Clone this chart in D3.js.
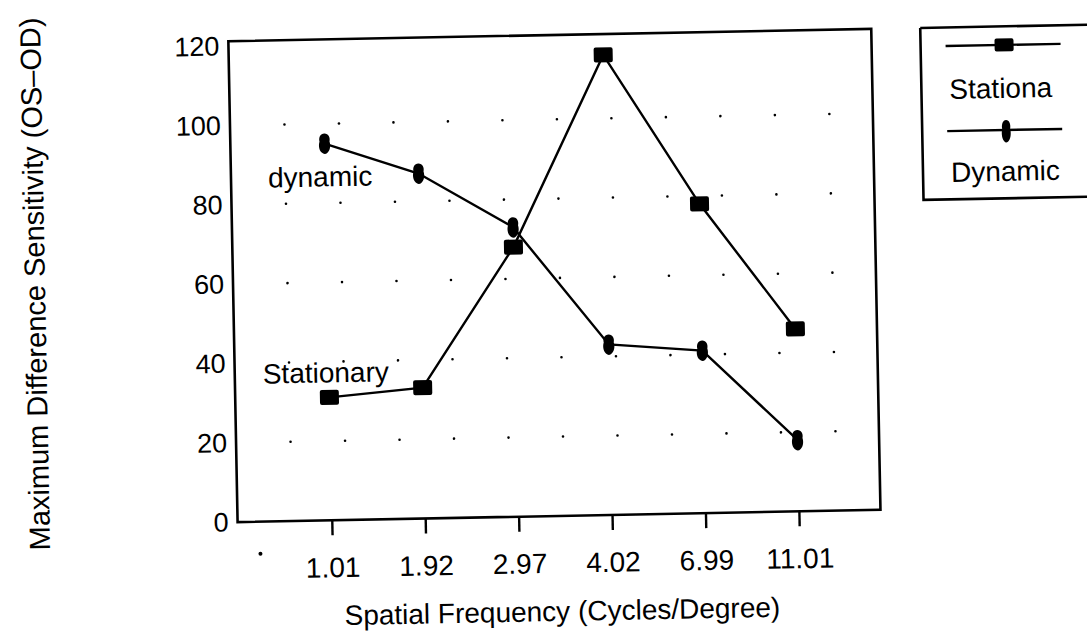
<!DOCTYPE html>
<html>
<head>
<meta charset="utf-8">
<script src="https://cdn.jsdelivr.net/npm/d3@7"></script>
<style>
  html, body { margin: 0; padding: 0; background: #fff; }
  svg { display: block; }
  text { font-family: "Liberation Sans", Arial, sans-serif; fill: #000; }
</style>
</head>
<body>
<svg id="chart" width="1087" height="635"></svg>
<script>
// ---- data ----
const categories = ["1.01", "1.92", "2.97", "4.02", "6.99", "11.01"];
const stationary = [31, 33, 68, 116, 78, 46];
const dynamic = [95, 87, 73, 43, 41, 18];
const yTicks = [0, 20, 40, 60, 80, 100, 120];
const gridValues = [20, 40, 60, 80, 100];
const seriesNames = ["Stationa", "Dynamic"];
const xTitle = "Spatial Frequency (Cycles/Degree)";
const yTitle = "Maximum Difference Sensitivity (OS\u2013OD)";

// ---- layout ----
const W = 1087, H = 635;
const frame = { left: 233, right: 876, top: 35, bottom: 516 };

const svg = d3.select("#chart");
const root = svg.append("g").attr("transform", "rotate(-1.1, 555, 280)");

const x = d3.scaleLinear().domain([0, categories.length - 1]).range([327.2, 794.4]);
const y = d3.scaleLinear().domain([0, 120]).range([frame.bottom, 40]);

// dotted grid
const dotStep = 54.5;
const dotXs = d3.range(1, 12).map(k => frame.left + k * dotStep);
const grid = root.append("g");
gridValues.forEach(v => {
  grid.selectAll(null).data(dotXs).enter().append("circle")
    .attr("cx", d => d).attr("cy", y(v)).attr("r", 1.3).attr("fill", "#000");
});

// frame
root.append("path")
  .attr("d", `M${frame.left},${frame.top}H${frame.right}V${frame.bottom}H${frame.left}Z`)
  .attr("fill", "none").attr("stroke", "#000").attr("stroke-width", 2.6);

// x axis
const xAxis = d3.axisBottom(x)
  .tickValues(d3.range(categories.length))
  .tickFormat(i => categories[i])
  .tickSize(15).tickPadding(22);
const gx = root.append("g").attr("transform", `translate(0,${frame.bottom})`).call(xAxis);
gx.select(".domain").remove();
gx.selectAll(".tick line").attr("stroke", "#000").attr("stroke-width", 2.4);
gx.selectAll(".tick text").attr("font-size", 28).attr("font-family", "Liberation Sans, Arial, sans-serif").attr("fill", "#000");

// stray mark left of first tick label, as in the scan
root.append("circle").attr("cx", x(-0.77)).attr("cy", 548).attr("r", 2).attr("fill", "#000");

// y axis
const yAxis = d3.axisLeft(y).tickValues(yTicks).tickSize(0).tickPadding(9);
const gy = root.append("g").attr("transform", `translate(${frame.left},0)`).call(yAxis);
gy.select(".domain").remove();
gy.selectAll(".tick text").attr("font-size", 27).attr("font-family", "Liberation Sans, Arial, sans-serif").attr("fill", "#000");

// lines
const line = d3.line().x((d, i) => x(i)).y(d => y(d));
root.append("path").datum(stationary).attr("d", line)
  .attr("fill", "none").attr("stroke", "#000").attr("stroke-width", 2.4);
root.append("path").datum(dynamic).attr("d", line)
  .attr("fill", "none").attr("stroke", "#000").attr("stroke-width", 2.4);

// markers
const dynMarker = "M0,-10 C4,-10 6,-6 5,-2 C6,1 6,6 3,9 C1,11 -1,11 -3,9 C-6,6 -6,1 -5,-2 C-6,-6 -4,-10 0,-10Z";
root.append("g").selectAll("rect").data(stationary).enter().append("rect")
  .attr("x", (d, i) => x(i) - 9.5).attr("y", d => y(d) - 7.5)
  .attr("width", 19).attr("height", 15).attr("rx", 2).attr("fill", "#000");
root.append("g").selectAll("path").data(dynamic).enter().append("path")
  .attr("d", dynMarker)
  .attr("transform", (d, i) => `translate(${x(i)},${y(d)})`).attr("fill", "#000");

// annotations
root.append("text").attr("x", 270).attr("y", 182).attr("font-size", 28).text("dynamic");
root.append("text").attr("x", 261).attr("y", 378).attr("font-size", 28).text("Stationary");

// axis titles
root.append("text").attr("x", 556).attr("y", 621).attr("text-anchor", "middle")
  .attr("font-size", 28).text(xTitle);
root.append("text").attr("transform", "translate(45,274) rotate(-90)")
  .attr("text-anchor", "middle").attr("font-size", 29).text(yTitle);

// legend
const lg = root.append("g");
lg.append("path").attr("d", "M925,35H1100M925,35V207H1100")
  .attr("fill", "none").attr("stroke", "#000").attr("stroke-width", 2.6);
const legendRows = [
  { name: seriesNames[0], lineY: 53.6, textY: 106.5, marker: "rect" },
  { name: seriesNames[1], lineY: 138.7, textY: 189.5, marker: "dyn" }
];
legendRows.forEach(r => {
  lg.append("line").attr("x1", 950).attr("x2", 1065).attr("y1", r.lineY).attr("y2", r.lineY)
    .attr("stroke", "#000").attr("stroke-width", 2.4);
  if (r.marker === "rect") {
    lg.append("rect").attr("x", 1008.5 - 9.5).attr("y", r.lineY - 6.5).attr("width", 19).attr("height", 13)
      .attr("rx", 2).attr("fill", "#000");
  } else {
    lg.append("path").attr("d", dynMarker).attr("transform", `translate(1009,${r.lineY + 1}) scale(0.8,1.1)`)
      .attr("fill", "#000");
  }
  lg.append("text").attr("x", 953).attr("y", r.textY).attr("font-size", 28).text(r.name);
});
</script>
</body>
</html>
